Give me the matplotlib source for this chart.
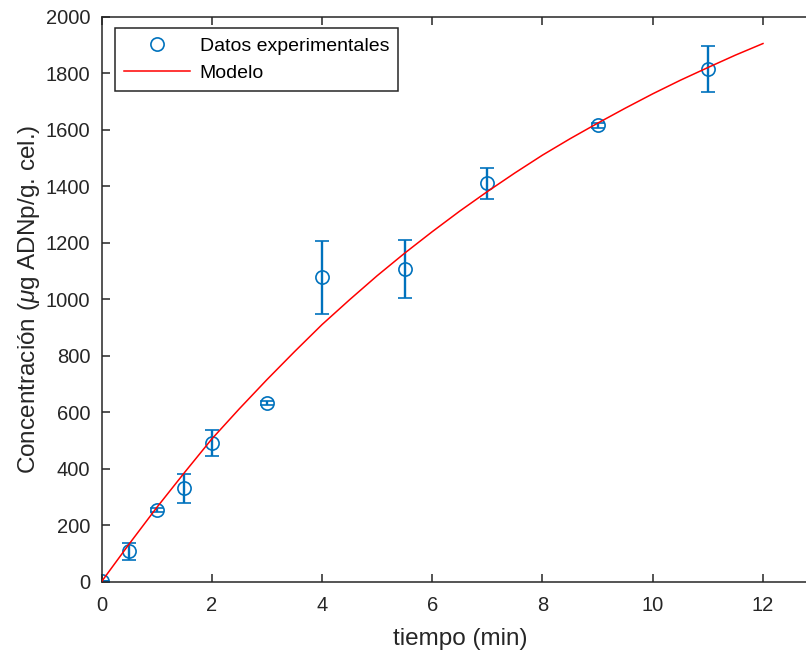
import numpy as np
import matplotlib
matplotlib.use("Agg")
import matplotlib.pyplot as plt
from matplotlib.lines import Line2D

t_exp = [0, 0.5, 1, 1.5, 2, 3, 4, 5.5, 7, 9, 11]
c_exp = [3, 107, 254, 330, 492, 633, 1077, 1108, 1410, 1615, 1815]
c_err = [0, 31, 8, 50, 46, 8, 130, 102, 56, 8, 83]

# model curve values
t_mod = [0, 0.5, 1, 1.5, 2, 2.5, 3, 3.5, 4, 4.5, 5, 5.5, 6, 6.5, 7, 7.5,
         8, 8.5, 9, 9.5, 10, 10.5, 11, 11.5, 12]
c_mod = [0, 133, 262, 385, 505, 612, 715, 814, 910, 998, 1083, 1163, 1239,
         1312, 1381, 1447, 1510, 1568, 1623, 1676, 1727, 1775, 1820, 1864, 1905]

blue = '#0072BD'
dark = '#262626'

plt.rcParams['font.family'] = ['Liberation Sans', 'DejaVu Sans']
plt.rcParams['mathtext.fontset'] = 'custom'
plt.rcParams['mathtext.it'] = 'Liberation Sans:italic'
plt.rcParams['mathtext.rm'] = 'Liberation Sans'

fig = plt.figure(figsize=(8.06, 6.52), dpi=100)
ax = fig.add_axes([101.5 / 806, 1 - 581.7 / 652, 716.6 / 806, 565 / 652])

ax.errorbar(t_exp, c_exp, yerr=c_err, fmt='o', color=blue, mfc='none',
            ms=9.5, mew=1.2, elinewidth=1.7, capsize=5, capthick=1.7,
            zorder=2)
ax.plot(t_mod, c_mod, color='#FF0000', lw=1.1, zorder=3)

ax.set_xlim(0, 13)
ax.set_ylim(0, 2000)
ax.set_xticks(np.arange(0, 13, 2))
ax.set_yticks(np.arange(0, 2001, 200))

for s in ax.spines.values():
    s.set_color(dark)
    s.set_linewidth(1.1)
ax.tick_params(direction='in', length=5.5, width=1.1, colors=dark,
               labelsize=14.5, top=True, right=True)
ax.tick_params(axis='x', pad=10)
ax.tick_params(axis='y', pad=8)

ax.set_xlabel('tiempo (min)', fontsize=17.5, color=dark, labelpad=10)
ax.set_ylabel(r'Concentración ($\mu$g ADNp/g. cel.)', fontsize=17.5, color=dark,
              labelpad=3)

handles = [Line2D([], [], ls='none', marker='o', mfc='none', mec=blue, ms=9.5, mew=1.2),
           Line2D([], [], color='#FF0000', lw=1.1)]
leg = ax.legend(handles, ['Datos experimentales', 'Modelo'], loc='upper left',
                bbox_to_anchor=(115 / 806, 1 - 28.3 / 652),
                bbox_transform=fig.transFigure, borderaxespad=0,
                fontsize=14, fancybox=False, framealpha=1, edgecolor=dark,
                handlelength=3.4, handletextpad=0.5, labelspacing=0.5,
                borderpad=0.45, numpoints=1)
leg.get_frame().set_linewidth(1.1)
for txt in leg.get_texts():
    txt.set_color('black')

fig.savefig('out.png', dpi=100)
